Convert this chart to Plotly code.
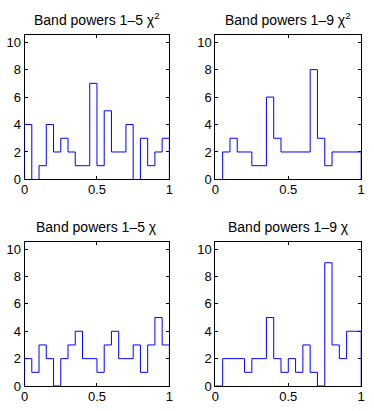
import numpy as np
import plotly.graph_objects as go

# histogram counts, 20 bins of width 0.05 on [0, 1]
bin_edges = np.linspace(0, 1, 21)
counts_15_chi2 = [4, 0, 1, 4, 2, 3, 2, 1, 1, 7, 1, 5, 2, 2, 4, 0, 3, 1, 2, 3]
counts_19_chi2 = [0, 2, 3, 2, 2, 1, 1, 6, 3, 2, 2, 2, 2, 8, 3, 1, 2, 2, 2, 2]
counts_15_chi = [2, 1, 3, 2, 0, 2, 3, 4, 2, 2, 1, 3, 4, 2, 2, 3, 1, 3, 5, 3]
counts_19_chi = [0, 2, 2, 2, 1, 2, 2, 5, 2, 1, 2, 1, 3, 1, 0, 9, 3, 2, 4, 4]

titles = [
    "Band powers 1\u20135 \u03c7<sup>2</sup>",
    "Band powers 1\u20139 \u03c7<sup>2</sup>",
    "Band powers 1\u20135 \u03c7",
    "Band powers 1\u20139 \u03c7",
]
panels = [counts_15_chi2, counts_19_chi2, counts_15_chi, counts_19_chi]

W, H = 374, 411
x_doms = [(21 / W, 169 / W), (216 / W, 365 / W)]
y_doms = [(1 - 183 / H, 1 - 36 / H), (1 - 393.7 / H, 1 - 247 / H)]
title_y = [1 - 19 / H, 1 - 231 / H]

FONT = dict(family="Liberation Sans, Arial, Helvetica, sans-serif", size=13, color="black")
TITLE_FONT = dict(FONT, size=14)

fig = go.Figure()
for i, counts in enumerate(panels):
    row, col = divmod(i, 2)
    n = i + 1
    xs = [0.0] + list(bin_edges[:-1]) + [1.0, 1.0]
    ys = [0] + list(counts) + [counts[-1], 0]
    fig.add_trace(go.Scatter(
        x=xs, y=ys, mode="lines", line_shape="hv",
        line=dict(color="#0000ff", width=1),
        xaxis=f"x{n}", yaxis=f"y{n}", showlegend=False,
    ))
    axis_style = dict(
        showline=True, linecolor="black", linewidth=1, mirror="ticks",
        ticks="inside", ticklen=3, tickcolor="black", tickwidth=1,
        showgrid=False, zeroline=False, layer="below traces",
        tickfont=FONT, ticklabeloverflow="allow",
    )
    fig.layout[f"xaxis{n}"] = dict(
        axis_style, domain=x_doms[col], range=[0, 1],
        tickvals=[0, 0.5, 1], ticktext=["0", "0.5", "1"],
        anchor=f"y{n}", ticklabelstandoff=-2,
    )
    fig.layout[f"yaxis{n}"] = dict(
        axis_style, domain=y_doms[row], range=[0, 10.5],
        tickvals=[0, 2, 4, 6, 8, 10], anchor=f"x{n}",
    )
    fig.add_annotation(
        text=titles[i], xref="paper", yref="paper",
        x=sum(x_doms[col]) / 2, y=title_y[row],
        xanchor="center", yanchor="middle", showarrow=False, font=TITLE_FONT,
    )

fig.update_layout(
    width=W, height=H,
    margin=dict(l=0, r=0, t=0, b=0),
    paper_bgcolor="white", plot_bgcolor="white",
    font=FONT,
)
# the page body has a default 8px margin; remove it so the figure fills the window
fig.write_html(
    "out.html",
    config={"displayModeBar": False},
    post_script="document.body.style.margin='0';",
)
